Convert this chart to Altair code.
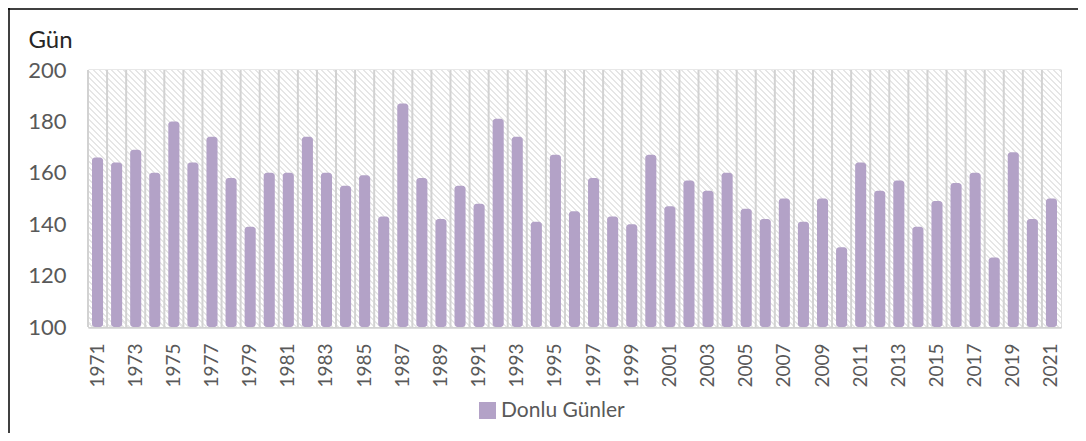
import altair as alt
import pandas as pd

years = [str(y) for y in range(1971, 2022)]
donlu_gunler = [166, 164, 169, 160, 180, 164, 174, 158, 139, 160,
                160, 174, 160, 155, 159, 143, 187, 158, 142, 155,
                148, 181, 174, 141, 167, 145, 158, 143, 140, 167,
                147, 157, 153, 160, 146, 142, 150, 141, 150, 131,
                164, 153, 157, 139, 149, 156, 160, 127, 168, 142, 150]
series_name = "Donlu Günler"
y_ticks = [100, 120, 140, 160, 180, 200]
x_label_years = years[::2]

df = pd.DataFrame({"yil": years, "gun": donlu_gunler, "seri": series_name})

W, H = 973, 257
FONT = "Lato"
GRID = "#d2d2d2"
BAR = "#b3a2c7"

# diagonal hatch as a hard-stop linear gradient (objectBoundingBox units)
k = (W + H) / (W * W + H * H)
n_stripes = 205
stops = []
for i in range(n_stripes):
    a = i / n_stripes
    b = (i + 0.55) / n_stripes
    c = (i + 1) / n_stripes
    stops += [
        {"offset": a, "color": "#ffffff"},
        {"offset": b, "color": "#ffffff"},
        {"offset": b, "color": "#e6e6e6"},
        {"offset": c, "color": "#e6e6e6"},
    ]
hatch = {"gradient": "linear", "x1": 0, "y1": 1, "x2": W * k, "y2": 1 - H * k, "stops": stops}

one = alt.Chart(pd.DataFrame({"a": [0]}))
background = one.mark_rect(fill=hatch, strokeWidth=0).encode(
    x=alt.value(0), x2=alt.value(W), y=alt.value(0), y2=alt.value(H)
)

base = alt.Chart(df)

vgrid = base.mark_rule(color=GRID, strokeWidth=2).encode(
    x=alt.X("yil:N", sort=None, scale=alt.Scale(paddingInner=0, paddingOuter=0), axis=None, bandPosition=0)
)

bars = base.mark_bar(cornerRadius=3).encode(
    x=alt.X(
        "yil:N",
        sort=None,
        scale=alt.Scale(paddingInner=0.42, paddingOuter=0.21),
        axis=alt.Axis(
            title=None, values=x_label_years, labelAngle=-90, labelAlign="right",
            labelBaseline="middle", labelFont=FONT, labelFontSize=19, labelColor="#595959",
            labelPadding=16, ticks=False, domainColor=GRID, domainWidth=2, grid=False,
        ),
    ),
    y=alt.Y(
        "gun:Q",
        scale=alt.Scale(domain=[100, 200], zero=False, nice=False),
        axis=alt.Axis(
            title="Gün", titleAngle=0, titleAlign="left", titleBaseline="alphabetic",
            titleX=-60, titleY=-23, titleFont=FONT, titleFontSize=24, titleFontWeight="normal",
            titleColor="#262626", values=y_ticks, labelFont=FONT, labelFontSize=22,
            labelColor="#595959", labelPadding=22, ticks=False, domain=False,
            grid=True, gridColor=GRID, gridWidth=2,
        ),
    ),
    y2=alt.datum(100),
    color=alt.Color(
        "seri:N",
        scale=alt.Scale(domain=[series_name], range=[BAR]),
        legend=alt.Legend(
            title=None, orient="none", legendX=389, legendY=330, symbolType="square",
            symbolSize=289, symbolStrokeWidth=0, labelFont=FONT, labelFontSize=21,
            labelColor="#595959", labelOffset=3,
        ),
    ),
)

frame_left = one.mark_rule(color="#000000", strokeWidth=1.5).encode(
    x=alt.value(-79), y=alt.value(-62), y2=alt.value(H + 110)
)
frame_top = one.mark_rule(color="#000000", strokeWidth=1.5).encode(
    x=alt.value(-80), x2=alt.value(W + 20), y=alt.value(-61)
)

chart = (
    alt.layer(background, vgrid, bars, frame_left, frame_top)
    .resolve_scale(x="independent")
    .properties(
        width=W, height=H,
        autosize=alt.AutoSizeParams(type="none"),
        padding={"left": 80, "top": 62, "right": 17, "bottom": 106},
    )
    .configure_view(stroke=GRID, strokeWidth=2)
    .configure(background="white")
)

chart.save("out.html", embed_options={"renderer": "svg", "actions": False})
